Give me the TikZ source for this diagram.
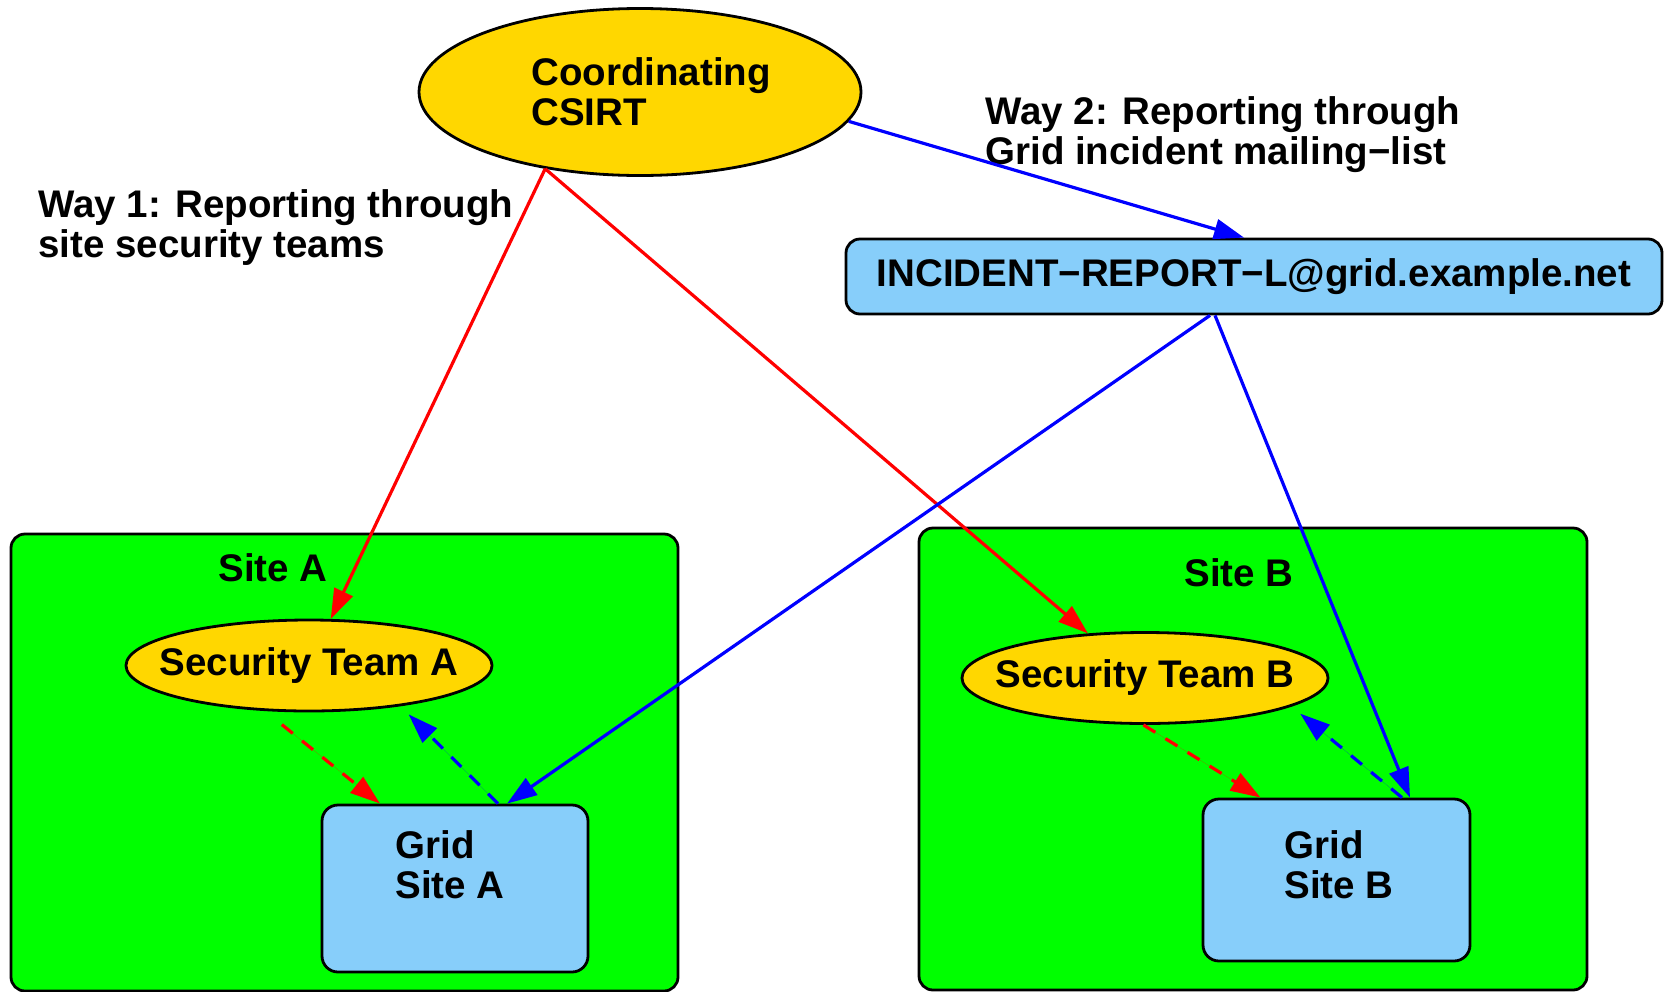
\documentclass[tikz,border=0pt]{standalone}
\usepackage{fontspec}
\setmainfont{Liberation Sans}
\usetikzlibrary{shapes.geometric,arrows.meta}
\definecolor{goldc}{HTML}{FFD700}
\definecolor{skyc}{HTML}{87CEFA}
\definecolor{greenc}{HTML}{00FF00}
\definecolor{redc}{HTML}{FF0000}
\definecolor{bluec}{HTML}{0000FF}
\begin{document}
\begin{tikzpicture}[x=0.5pt,y=-0.5pt,
  every node/.style={font=\fontsize{19.25pt}{20pt}\selectfont\bfseries},
  oval/.style={ellipse,draw=black,line width=1.4pt,fill=goldc,inner sep=0pt},
  sitebox/.style={rectangle,rounded corners=7pt,draw=black,line width=1.4pt,fill=greenc,inner sep=0pt},
  gridbox/.style={rectangle,rounded corners=8pt,draw=black,line width=1.4pt,fill=skyc,inner sep=0pt},
  txt/.style={inner sep=0pt,align=left},
  edge/.style={line width=1.6pt,-{Triangle[length=15pt,width=10pt]}},
  dashedge/.style={edge,dash pattern=on 7pt off 6pt}
]
\useasboundingbox (0,0) rectangle (1664,991);
% site containers
\node[sitebox,minimum width=333.5pt,minimum height=228.5pt] (siteA) at (344.5,762.5) {};
\node[sitebox,minimum width=334pt,minimum height=231pt] (siteB) at (1253,759) {};
\node[txt] (siteAl) at (273,568) {Site A};
\node[txt] (siteBl) at (1239,573) {Site B};
% main nodes
\node[oval,minimum width=221pt,minimum height=83.5pt,align=left] (csirt) at (640,92) {\hspace*{11pt}Coordinating\\\hspace*{11pt}CSIRT};
\node[gridbox,rounded corners=7pt,minimum width=408pt,minimum height=37.5pt] (inc) at (1254,276.5) {INCIDENT−REPORT−L@grid.example.net};
\node[oval,inner xsep=-10pt,minimum width=181.5pt,minimum height=45.5pt] (sta) at (309,665.5) {Security Team A};
\node[oval,inner xsep=-10pt,minimum width=181.5pt,minimum height=45.5pt] (stb) at (1145,678) {Security Team B};
\node[gridbox,minimum width=133pt,minimum height=83.5pt] (gsa) at (455,888.5) {};
\node[gridbox,minimum width=133.5pt,minimum height=81pt] (gsb) at (1336.5,880) {};
\node[txt,anchor=west] (gsat) at (395,865) {Grid\\Site A};
\node[txt,anchor=west] (gsbt) at (1284,865) {Grid\\Site B};
% labels
\node[txt,anchor=west] (way1) at (38,228) {Way 1: Reporting through\\site security teams};
\node[txt,anchor=west] (way2) at (985,135) {Way 2: Reporting through\\Grid incident mailing−list};
% edges
\draw[edge,draw=redc,fill=redc] (csirt.219) -- (sta.65);
\draw[edge,draw=redc,fill=redc] (csirt.219) -- (stb.142);
\draw[edge,draw=bluec,fill=bluec] (csirt.352) -- ([xshift=-5pt]inc.north);
\draw[edge,draw=bluec,fill=bluec] ([xshift=-22pt]inc.south) -- ([xshift=26pt]gsa.north);
\draw[edge,draw=bluec,fill=bluec] ([xshift=-19.5pt]inc.south) -- ([xshift=36.75pt]gsb.north);
\draw[dashedge,draw=redc,fill=redc,shorten <=10.8pt] (sta.226) -- ([xshift=-37.5pt]gsa.north);
\draw[dashedge,draw=bluec,fill=bluec,shorten >=5.75pt] ([xshift=21.5pt]gsa.north) -- (sta.336);
\draw[dashedge,draw=redc,fill=redc] (stb.268) -- ([xshift=-38pt]gsb.north);
\draw[dashedge,draw=bluec,fill=bluec,shorten >=5.6pt] ([xshift=32.75pt]gsb.north) -- (stb.349);
\end{tikzpicture}
\end{document}
